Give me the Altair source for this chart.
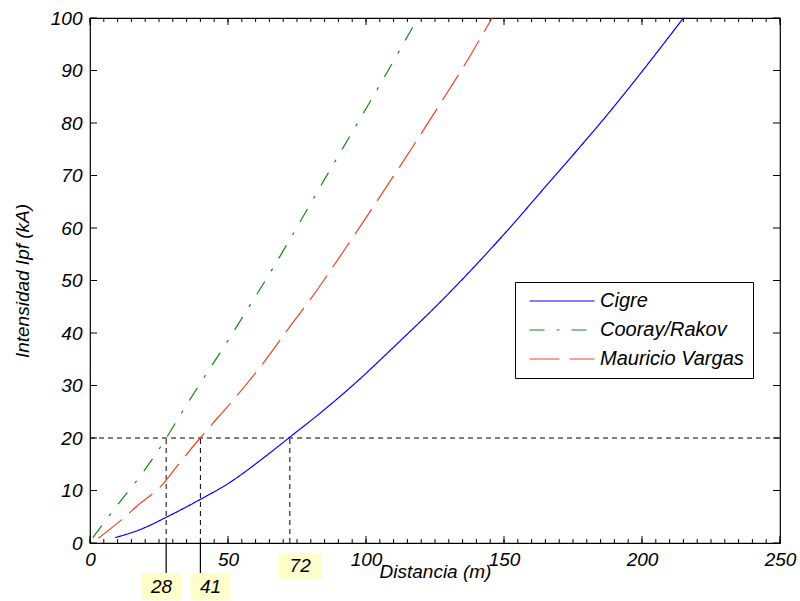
import altair as alt
import pandas as pd

# ---- data ----
series_names = ["Cigre", "Cooray/Rakov", "Mauricio Vargas"]

cigre_x = [9, 19.3, 28, 41, 50, 61.6, 72, 84, 96, 110, 128.6, 135.6, 150, 164.9, 188.4, 200, 207.7, 215]
cigre_y = [1, 2.8, 5, 8.6, 11.3, 15.7, 20, 25, 30.4, 37.3, 46.8, 50.6, 58.8, 67.8, 82.2, 89.8, 95, 100]

cooray_x = [1, 10, 18, 27.5, 33.2, 38, 49.9, 58, 66.2, 88, 103.3, 115.9, 118.8]
cooray_y = [1, 7.3, 12.6, 19.9, 24.8, 28.8, 38.5, 45.3, 52.3, 72, 85.7, 97.3, 100]

vargas_x = [3, 12.7, 16.7, 27.2, 30, 39.9, 52.5, 63.4, 73.1, 79.7, 92.4, 100.8, 118.3, 127.4, 135.3, 145.7]
vargas_y = [0.9, 5, 6.9, 11.7, 13.6, 20, 27.6, 34.7, 41.7, 46.3, 56, 62.6, 76.6, 84.1, 90.7, 100]

threshold = 20
marker_x = [27.6, 40, 72.4]
marker_labels = ["28", "41", "72"]

x_major = [0, 50, 100, 150, 200, 250]
x_minor = list(range(0, 251, 5))
y_major = [0, 10, 20, 30, 40, 50, 60, 70, 80, 90, 100]

# ---- tables ----
rows = []
for name, xs, ys in zip(series_names, [cigre_x, cooray_x, vargas_x], [cigre_y, cooray_y, vargas_y]):
    for a, b in zip(xs, ys):
        rows.append({"series": name, "x": a, "y": b})
df_lines = pd.DataFrame(rows)

W, H = 690, 525
FONT = "Liberation Sans"

xscale = alt.Scale(domain=[0, 250], nice=False, zero=False)
yscale = alt.Scale(domain=[0, 100], nice=False, zero=False)
xaxis = alt.Axis(values=x_major, title="Distancia (m)", ticks=False, domain=False, grid=False,
                 labelPadding=7, titlePadding=-7, labelFlush=False, labelOverlap=False)
yaxis = alt.Axis(values=y_major, title="Intensidad Ipf (kA)", ticks=False, domain=False, grid=False,
                 labelPadding=8, titlePadding=18, labelOverlap=False)


def X(f="x"):
    return alt.X(f"{f}:Q", scale=xscale, axis=xaxis)


def Y(f="y"):
    return alt.Y(f"{f}:Q", scale=yscale, axis=yaxis)


# legend symbol: a horizontal stroke path, scaled so it is about 65 px long
legend = alt.Legend(title=None, orient="none", legendX=425, legendY=264,
                    symbolType="M-5,0H5", symbolSize=169, symbolStrokeWidth=1.2,
                    symbolOffset=28, symbolFillColor="transparent",
                    labelFont=FONT, labelFontSize=20, labelFontStyle="italic", labelColor="black",
                    labelOffset=28, labelLimit=300,
                    padding=9, rowPadding=9, strokeColor="black", fillColor="white")

lines = alt.Chart(df_lines).mark_line(strokeWidth=1.2, interpolate="monotone").encode(
    x=X(), y=Y(),
    color=alt.Color("series:N", scale=alt.Scale(domain=series_names,
                                                range=["#0000ff", "#108a10", "#ee4422"]),
                    legend=legend),
    strokeDash=alt.StrokeDash("series:N", scale=alt.Scale(domain=series_names,
                                                          range=[[1, 0], [15, 12, 3, 12], [30, 10]]),
                              legend=legend),
    detail="series:N",
)

# guide lines
df_h = pd.DataFrame({"x": [0], "x2": [250], "y": [threshold]})
hline = alt.Chart(df_h).mark_rule(color="black", strokeDash=[5, 4], strokeWidth=1).encode(
    x=X(), x2="x2:Q", y=Y())

df_v = pd.DataFrame({"x": marker_x, "y": [0] * 3, "y2": [threshold] * 3})
vlines = alt.Chart(df_v).mark_rule(color="black", strokeDash=[5, 4], strokeWidth=1).encode(
    x=X(), y=Y(), y2="y2:Q")

# annotation boxes below the axis (layout offsets in data units)
box_left = [-9.1, -3.6, -4.2]
box_right = [5.7, 10.9, 11.7]
box_top = [-5.7, -5.7, -1.9]
box_bottom = [-10.9, -10.9, -6.9]
df_box = pd.DataFrame({
    "x": [m + a for m, a in zip(marker_x, box_left)],
    "x2": [m + b for m, b in zip(marker_x, box_right)],
    "y": box_top, "y2": box_bottom,
    "label": marker_labels,
})
df_box["xc"] = (df_box["x"] + df_box["x2"]) / 2
df_box["yc"] = (df_box["y"] + df_box["y2"]) / 2

boxes = alt.Chart(df_box).mark_rect(fill="#ffffcc").encode(
    x=X(), x2="x2:Q", y=Y(), y2="y2:Q")
box_text = alt.Chart(df_box).mark_text(font=FONT, fontSize=19, fontStyle="italic", color="black",
                                       align="center", baseline="middle").encode(
    x=X("xc"), y=Y("yc"), text="label:N")

df_lead = pd.DataFrame({"x": marker_x[:2], "y": [0, 0], "y2": box_top[:2]})
leads = alt.Chart(df_lead).mark_rule(color="black", strokeWidth=1.2).encode(
    x=X(), y=Y(), y2="y2:Q")

# inward ticks (MATLAB style box axes)
df_xmaj = pd.DataFrame({"x": x_major})
df_xmin = pd.DataFrame({"x": x_minor})
df_ymaj = pd.DataFrame({"y": y_major})

tick_style = dict(color="black", strokeWidth=1)
xt_bot_maj = alt.Chart(df_xmaj).mark_rule(**tick_style).encode(x=X(), y=alt.value(H), y2=alt.value(H - 7))
xt_top_maj = alt.Chart(df_xmaj).mark_rule(**tick_style).encode(x=X(), y=alt.value(0), y2=alt.value(7))
xt_bot_min = alt.Chart(df_xmin).mark_rule(**tick_style).encode(x=X(), y=alt.value(H), y2=alt.value(H - 4))
xt_top_min = alt.Chart(df_xmin).mark_rule(**tick_style).encode(x=X(), y=alt.value(0), y2=alt.value(4))
yt_left = alt.Chart(df_ymaj).mark_rule(**tick_style).encode(y=Y(), x=alt.value(0), x2=alt.value(7))
yt_right = alt.Chart(df_ymaj).mark_rule(**tick_style).encode(y=Y(), x=alt.value(W), x2=alt.value(W - 7))

chart = alt.layer(
    boxes, box_text, leads,
    xt_bot_min, xt_top_min, xt_bot_maj, xt_top_maj, yt_left, yt_right,
    hline, vlines, lines,
).properties(
    width=W, height=H,
    autosize=alt.AutoSizeParams(type="none"),
    padding={"left": 90, "top": 18, "right": 20, "bottom": 58},
    background="white",
).configure_view(
    stroke="black", strokeWidth=1.2
).configure_axis(
    labelFont=FONT, labelFontSize=19, labelFontStyle="italic", labelColor="black",
    titleFont=FONT, titleFontSize=19, titleFontStyle="italic", titleFontWeight="normal",
    titleColor="black",
)

chart.save("out.html", embed_options={"renderer": "svg", "actions": False})
